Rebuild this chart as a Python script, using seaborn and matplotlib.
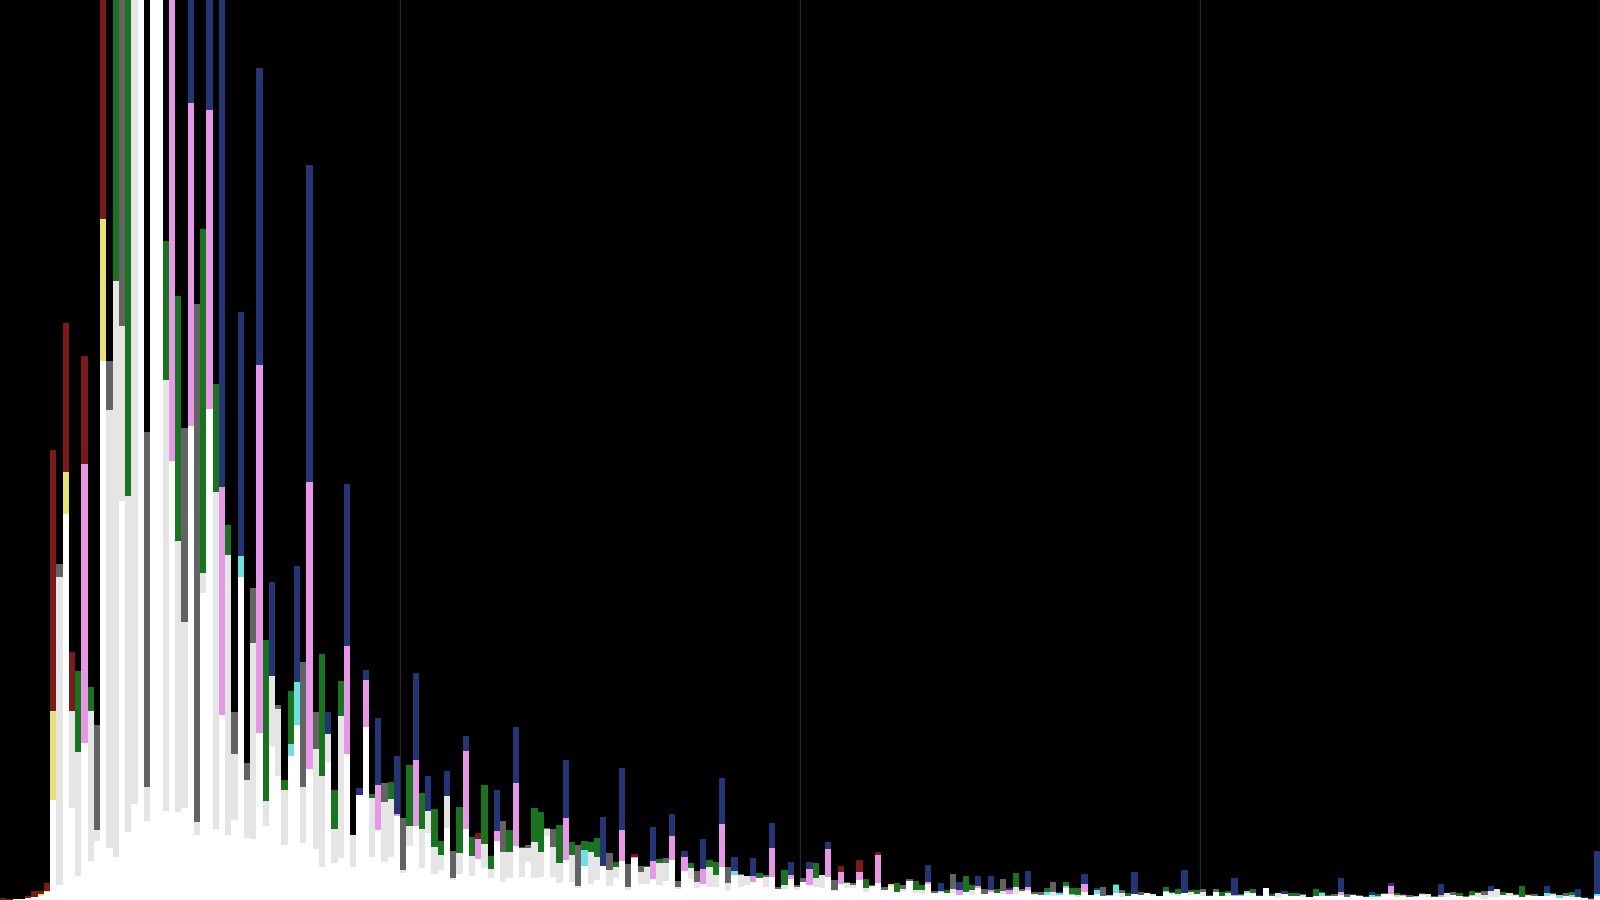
import numpy as np
import pandas as pd
import matplotlib
matplotlib.use("Agg")
import matplotlib.pyplot as plt
import seaborn as sns

# 256 levels, one stacked bar per level
levels = np.arange(256)

white = [
    0, 0, 1, 1, 2, 3, 4, 8, 100, 15, 386, 92, 24, 157, 39, 59,
    539, 52, 43, 399, 68, 96, 1000, 79, 1000, 1000, 89, 439, 88, 92, 474, 65,
    307, 491, 71, 185, 65, 80, 323, 62, 61, 167, 74, 154, 124, 55, 144, 175,
    57, 131, 51, 33, 138, 37, 42, 146, 33, 105, 173, 43, 70, 38, 43, 84,
    27, 54, 74, 32, 67, 26, 30, 72, 20, 26, 71, 24, 41, 32, 22, 59,
    18, 22, 54, 23, 38, 22, 23, 64, 23, 17, 40, 18, 12, 34, 16, 20,
    34, 14, 22, 39, 10, 42, 16, 16, 21, 15, 19, 40, 11, 29, 21, 12,
    16, 13, 13, 33, 9, 25, 13, 15, 18, 22, 13, 23, 11, 11, 21, 10,
    18, 15, 13, 12, 23, 9, 16, 12, 12, 20, 8, 13, 17, 10, 14, 8,
    9, 19, 7, 6, 16, 7, 8, 7, 7, 5, 8, 5, 12, 6, 8, 7,
    6, 6, 6, 8, 10, 5, 5, 5, 4, 5, 12, 5, 3, 8, 5, 6,
    4, 4, 7, 3, 4, 6, 5, 7, 4, 4, 8, 5, 4, 7, 5, 6,
    4, 4, 8, 4, 4, 4, 4, 7, 7, 4, 12, 4, 2, 6, 4, 4,
    3, 3, 4, 4, 4, 4, 5, 3, 5, 4, 3, 3, 3, 6, 6, 3,
    4, 3, 3, 5, 3, 3, 3, 3, 5, 4, 3, 4, 3, 1, 3, 3,
    5, 4, 4, 3, 4, 4, 4, 4, 4, 2, 4, 3, 3, 2, 0, 4,
]

light_gray = [
    0, 0, 0, 0, 0, 0, 0, 0, 0, 308, 0, 97, 124, 0, 150, 11,
    0, 438, 576, 175, 336, 904, 0, 34, 0, 0, 431, 0, 271, 186, 0, 13,
    20, 0, 337, 0, 280, 66, 0, 58, 196, 0, 25, 70, 67, 55, 0, 0,
    56, 0, 100, 91, 28, 34, 142, 0, 32, 0, 0, 59, 0, 60, 58, 0,
    3, 20, 0, 39, 22, 27, 15, 32, 2, 21, 0, 20, 0, 24, 9, 0,
    30, 26, 0, 29, 14, 36, 25, 7, 30, 20, 0, 27, 2, 0, 32, 23,
    0, 16, 11, 0, 3, 0, 12, 17, 0, 22, 18, 0, 2, 0, 11, 6,
    0, 20, 12, 0, 8, 0, 12, 9, 0, 0, 10, 0, 0, 4, 0, 3,
    0, 0, 9, 13, 0, 1, 0, 5, 3, 0, 4, 1, 0, 0, 0, 0,
    2, 0, 3, 4, 0, 0, 0, 0, 4, 0, 0, 5, 0, 0, 0, 0,
    3, 0, 7, 1, 0, 1, 0, 0, 4, 0, 0, 0, 2, 0, 0, 0,
    0, 0, 0, 4, 0, 0, 0, 0, 2, 0, 0, 2, 2, 0, 3, 0,
    4, 0, 0, 0, 3, 0, 0, 0, 0, 0, 0, 0, 5, 0, 0, 0,
    2, 0, 0, 0, 0, 0, 0, 0, 0, 0, 0, 0, 0, 0, 0, 0,
    0, 0, 0, 0, 3, 0, 0, 4, 0, 0, 0, 0, 4, 4, 6, 8,
    0, 3, 1, 0, 0, 0, 0, 0, 2, 0, 0, 0, 0, 0, 0, 0,
]

# sparse series: {level: count}
dark_gray = {
    9: 13, 15: 105, 17: 49, 19: 426, 23: 355, 29: 194, 31: 518, 37: 42, 39: 17,
    40: 55, 44: 4, 48: 125, 50: 37, 61: 19, 64: 52, 72: 27, 80: 31, 84: 3, 87: 1,
    88: 18, 92: 41, 97: 17, 100: 23, 102: 6, 106: 5, 108: 6, 111: 11, 116: 16,
    118: 1, 122: 2, 124: 2, 127: 2, 128: 4, 133: 10, 136: 2, 139: 1, 141: 3,
    144: 4, 145: 2, 149: 2, 152: 15, 157: 5, 160: 12, 163: 2, 165: 2, 166: 3,
    168: 10, 176: 9, 179: 3, 182: 3, 192: 3, 194: 3, 208: 1, 213: 2, 215: 3,
    225: 2, 232: 3, 234: 1, 237: 4, 245: 2, 250: 3,
}
yellow = {6: 2, 7: 1, 8: 89, 10: 42, 16: 142, 142: 2, 223: 2, 227: 1, 244: 1}
cyan = {
    38: 21, 46: 12, 47: 43, 93: 16, 117: 4, 150: 1, 167: 3, 169: 2, 170: 2,
    171: 1, 175: 4, 177: 1, 178: 8, 186: 1, 198: 1, 199: 2, 211: 3, 219: 2,
    220: 1, 226: 1, 235: 1, 247: 3, 249: 3, 251: 2, 255: 2,
}
green = {
    12: 81, 14: 24, 18: 381, 20: 596, 26: 139, 28: 245, 32: 344, 34: 108,
    36: 30, 42: 161, 45: 10, 46: 53, 51: 122, 53: 39, 54: 35, 59: 4, 62: 17,
    65: 61, 67: 36, 69: 38, 70: 14, 73: 46, 75: 19, 77: 59, 78: 13, 81: 22,
    83: 1, 85: 34, 86: 40, 89: 38, 91: 13, 93: 9, 94: 10, 95: 19, 98: 5,
    103: 1, 105: 4, 110: 5, 113: 7, 114: 13, 121: 5, 125: 15, 130: 15, 135: 1,
    138: 9, 143: 9, 146: 9, 147: 5, 151: 3, 154: 16, 155: 5, 159: 4, 162: 14,
    167: 4, 170: 4, 171: 6, 172: 7, 178: 1, 180: 3, 186: 4, 187: 1, 188: 5,
    190: 2, 191: 4, 195: 4, 196: 2, 198: 1, 200: 4, 203: 2, 206: 3, 207: 3,
    210: 7, 211: 1, 212: 1, 217: 1, 220: 2, 221: 1, 223: 2, 227: 1, 229: 1,
    233: 3, 235: 4, 236: 1, 240: 3, 242: 1, 243: 11, 248: 1, 251: 3,
}
pink = {
    13: 279, 27: 561, 30: 323, 33: 299, 35: 228, 41: 368, 49: 287, 55: 108,
    58: 47, 60: 45, 63: 2, 66: 66, 74: 78, 76: 20, 79: 10, 82: 63, 90: 42,
    99: 31, 101: 1, 104: 18, 107: 24, 109: 14, 112: 15, 115: 43, 120: 6,
    123: 29, 126: 4, 129: 16, 132: 28, 134: 12, 137: 8, 140: 28, 148: 2,
    153: 5, 156: 2, 158: 2, 161: 4, 164: 3, 173: 8, 197: 1, 214: 3, 222: 8,
    224: 1, 230: 2, 254: 1,
}
navy = {
    30: 203, 33: 210, 35: 587, 38: 244, 41: 297, 43: 94, 47: 116, 49: 317,
    52: 22, 55: 162, 57: 7, 58: 10, 60: 67, 63: 58, 66: 87, 68: 35, 71: 25,
    74: 15, 79: 41, 82: 56, 90: 58, 96: 49, 99: 62, 104: 34, 107: 22, 109: 6,
    112: 30, 115: 46, 117: 14, 120: 18, 123: 25, 126: 13, 129: 7, 132: 7,
    148: 17, 150: 8, 153: 8, 156: 10, 158: 14, 161: 2, 164: 16, 169: 1,
    173: 10, 175: 2, 181: 22, 189: 23, 193: 1, 197: 17, 201: 1, 205: 3,
    214: 14, 216: 1, 218: 1, 219: 3, 222: 3, 224: 1, 230: 11, 238: 5, 247: 7,
    252: 8, 253: 1, 254: 1, 255: 43,
}
dark_red = {
    0: 2, 1: 1, 4: 2, 5: 6, 6: 3, 7: 8, 8: 261, 10: 149, 11: 59, 13: 108,
    16: 319, 76: 6, 101: 3, 134: 6, 137: 12, 140: 3, 244: 1,
}


def expand(sparse):
    arr = np.zeros(len(levels))
    for k, v in sparse.items():
        arr[k] = v
    return arr


# seaborn stacks the last hue level at the bottom
series = {
    "dark red": expand(dark_red),
    "navy": expand(navy),
    "pink": expand(pink),
    "green": expand(green),
    "cyan": expand(cyan),
    "yellow": expand(yellow),
    "dark gray": expand(dark_gray),
    "light gray": np.array(light_gray, dtype=float),
    "white": np.array(white, dtype=float),
}
palette = {
    "dark red": "#7a1a1a",
    "navy": "#243475",
    "pink": "#e697e6",
    "green": "#1a731f",
    "cyan": "#6ee0e0",
    "yellow": "#e6e372",
    "dark gray": "#636363",
    "light gray": "#e5e5e5",
    "white": "#ffffff",
}

df = pd.concat(
    [pd.DataFrame({"level": levels + 0.5, "count": vals, "series": name})
     for name, vals in series.items()],
    ignore_index=True,
)

sns.set_style("dark", {"axes.facecolor": "black", "figure.facecolor": "black"})
fig = plt.figure(figsize=(16, 9), dpi=100)
ax = fig.add_axes([0, 0, 1, 1])
sns.histplot(data=df, x="level", weights="count", hue="series",
             hue_order=list(series.keys()), palette=palette,
             multiple="stack", binwidth=1, binrange=(0, 256), element="bars",
             linewidth=0, alpha=1, legend=False, ax=ax)

ax.set_xlim(0, 256)
ax.set_ylim(0, 900)
# no line on the left edge in the reference
ax.set_xticks([64, 128, 192, 256])
ax.grid(axis="x", color="#262626", linewidth=1)
ax.grid(axis="y", visible=False)
ax.set_axisbelow(True)
ax.tick_params(length=0, labelbottom=False, labelleft=False)
ax.set_xlabel("")
ax.set_ylabel("")
for s in ax.spines.values():
    s.set_visible(False)

fig.savefig("out.png", dpi=100, facecolor="black")
